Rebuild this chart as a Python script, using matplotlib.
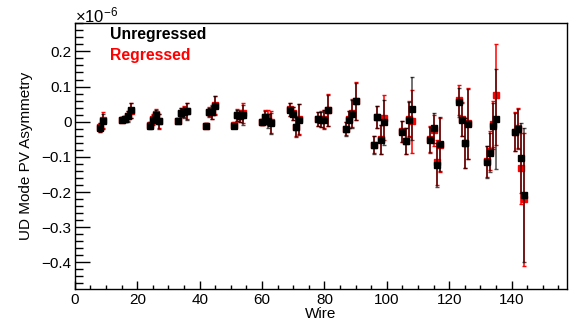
# Importamos Matplotlib y NumPy para dibujar el grafico de asimetrias.
import matplotlib
matplotlib.use("Agg")
import matplotlib.pyplot as plt
from matplotlib.ticker import MultipleLocator, FuncFormatter
import numpy as np

# Fuente parecida a la de ROOT (Helvetica).
plt.rcParams["font.family"] = ["Liberation Sans", "DejaVu Sans"]
plt.rcParams["mathtext.fontset"] = "custom"
plt.rcParams["mathtext.rm"] = "Liberation Sans"
plt.rcParams["mathtext.it"] = "Liberation Sans:italic"

# Datos (asimetria en unidades de 1e-6).
wires = [8, 9, 15, 16, 17, 18, 24, 25, 26, 27, 33, 34, 35, 36,
         42, 43, 44, 45, 51, 52, 53, 54, 60, 61, 62, 63,
         69, 70, 71, 72, 78, 79, 80, 81, 87, 88, 89, 90,
         96, 97, 98, 99, 105, 106, 107, 108, 114, 115, 116, 117,
         123, 124, 125, 126, 132, 133, 134, 135, 141, 142, 143, 144]

asim_sin_regresion = [-0.017, 0.001, 0.006, 0.008, 0.015, 0.032,
                      -0.011, 0.006, 0.020, 0.001, 0.003, 0.025, 0.027, 0.029,
                      -0.011, 0.027, 0.027, 0.046, -0.011, 0.018, 0.015, 0.020,
                      -0.002, 0.013, 0.001, -0.004,
                      0.034, 0.023, -0.016, 0.006, 0.008, 0.006, 0.006, 0.032,
                      -0.021, 0.006, 0.023, 0.058,
                      -0.066, 0.013, -0.051, -0.002, -0.028, -0.056, 0.006, 0.037,
                      -0.051, -0.018, -0.123, -0.064,
                      0.055, 0.006, -0.061, -0.006, -0.114, -0.088, -0.013, 0.008,
                      -0.029, -0.020, -0.104, -0.208]

error_sin_regresion = [0.012, 0.022, 0.008, 0.008, 0.015, 0.021,
                       0.009, 0.014, 0.014, 0.021, 0.008, 0.013, 0.016, 0.023,
                       0.008, 0.013, 0.019, 0.026, 0.008, 0.016, 0.016, 0.028,
                       0.008, 0.018, 0.020, 0.030,
                       0.019, 0.018, 0.027, 0.043, 0.019, 0.022, 0.026, 0.045,
                       0.019, 0.024, 0.040, 0.053,
                       0.025, 0.031, 0.041, 0.064, 0.030, 0.037, 0.050, 0.090,
                       0.037, 0.044, 0.063, 0.076,
                       0.042, 0.048, 0.071, 0.100, 0.045, 0.055, 0.065, 0.143,
                       0.055, 0.057, 0.100, 0.190]

asim_con_regresion = [-0.016, 0.004, 0.006, 0.009, 0.016, 0.031,
                      -0.010, 0.007, 0.021, 0.002, 0.003, 0.026, 0.028, 0.030,
                      -0.011, 0.028, 0.028, 0.047, -0.010, 0.019, 0.016, 0.024,
                      -0.001, 0.014, 0.012, -0.001,
                      0.035, 0.024, -0.015, 0.007, 0.008, 0.007, 0.007, 0.033,
                      -0.020, 0.007, 0.024, 0.060,
                      -0.065, 0.014, -0.050, 0.011, -0.027, -0.055, 0.008, 0.001,
                      -0.050, -0.025, -0.116, -0.066,
                      0.061, 0.007, -0.060, -0.005, -0.113, -0.082, -0.006, 0.077,
                      -0.028, -0.019, -0.133, -0.221]

error_con_regresion = [0.013, 0.023, 0.008, 0.008, 0.015, 0.021,
                       0.009, 0.014, 0.015, 0.021, 0.008, 0.013, 0.016, 0.023,
                       0.008, 0.013, 0.019, 0.026, 0.008, 0.016, 0.016, 0.029,
                       0.008, 0.018, 0.020, 0.030,
                       0.019, 0.018, 0.027, 0.043, 0.019, 0.022, 0.026, 0.045,
                       0.019, 0.024, 0.040, 0.054,
                       0.025, 0.031, 0.041, 0.064, 0.030, 0.037, 0.050, 0.090,
                       0.037, 0.044, 0.063, 0.076,
                       0.042, 0.048, 0.071, 0.100, 0.045, 0.055, 0.065, 0.143,
                       0.055, 0.057, 0.100, 0.190]

# Figura con el tamano del original.
fig = plt.figure(figsize=(5.76, 3.27), dpi=100)
ax = fig.add_axes([0.130, 0.116, 0.854, 0.814])

# Primero la serie con regresion (roja), despues la serie sin regresion (negra) encima.
ax.errorbar(wires, asim_con_regresion, yerr=error_con_regresion, fmt="s",
            color="red", ms=3.8, elinewidth=1.1, capsize=1.6, capthick=1.0, zorder=2)
ax.errorbar(wires, asim_sin_regresion, yerr=error_sin_regresion, fmt="none",
            ecolor="black", alpha=0.7, elinewidth=1.1, capsize=1.6, capthick=1.0, zorder=4)
ax.plot(wires, asim_sin_regresion, "s", color="black", ms=3.8, zorder=5)

# Limites y ticks al estilo ROOT.
ax.set_xlim(0, 157.7)
ax.set_ylim(-0.476, 0.281)
ax.xaxis.set_major_locator(MultipleLocator(20))
ax.xaxis.set_minor_locator(MultipleLocator(5))
ax.yaxis.set_major_locator(MultipleLocator(0.1))
ax.yaxis.set_minor_locator(MultipleLocator(0.02))
ax.yaxis.set_major_formatter(FuncFormatter(lambda v, p: f"{v:g}".replace("-", "\u2212")))
ax.tick_params(axis="y", which="major", direction="in", length=10.5, width=1, labelsize=11, pad=2.5)
ax.tick_params(axis="y", which="minor", direction="in", length=5.5, width=1)
ax.tick_params(axis="x", which="major", direction="in", length=6, width=1, labelsize=11, pad=3)
ax.tick_params(axis="x", which="minor", direction="in", length=3, width=1)
for lado in ax.spines.values():
    lado.set_linewidth(1)

# Titulos de los ejes.
ax.set_xlabel("Wire", fontsize=11, labelpad=0)
ax.set_ylabel("UD Mode PV Asymmetry", fontsize=11, labelpad=6)

# Factor de escala arriba a la izquierda.
fig.text(75 / 576, 1 - 22 / 327, r"$\times10^{-6}$", fontsize=12, ha="left", va="baseline")

# Leyenda como texto.
fig.text(110 / 576, 1 - 39 / 327, "Unregressed", fontsize=11.3, fontweight="bold",
         color="black", ha="left", va="baseline")
fig.text(110 / 576, 1 - 60 / 327, "Regressed", fontsize=11.3, fontweight="bold",
         color="red", ha="left", va="baseline")

fig.savefig("out.png", dpi=100)
